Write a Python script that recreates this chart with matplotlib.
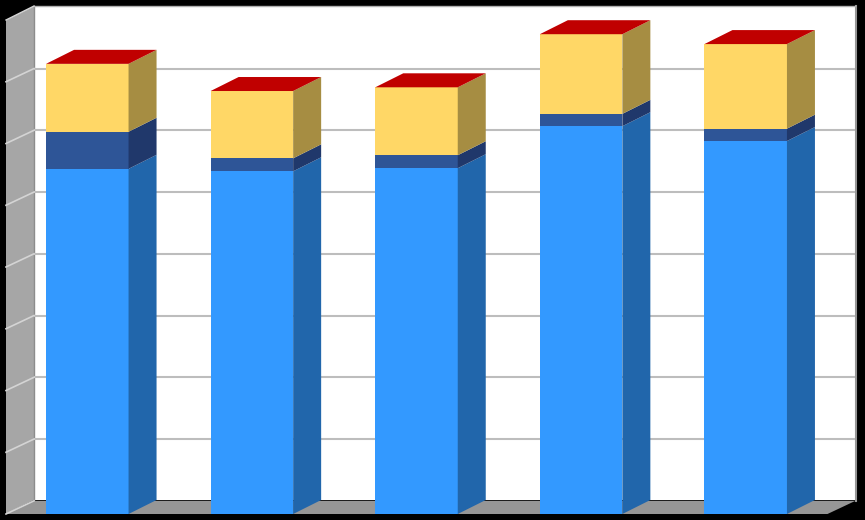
from matplotlib import pyplot as plt
from matplotlib.patches import Polygon

# values, one gridline = 1 unit
blue = [5.59, 5.55, 5.60, 6.28, 6.04]
navy = [0.60, 0.21, 0.21, 0.20, 0.20]
yellow = [1.10, 1.09, 1.10, 1.29, 1.37]
red = [0.0, 0.0, 0.0, 0.0, 0.0]
gridlines = [1, 2, 3, 4, 5, 6, 7, 8]

# front colour, side colour
colors = [('#3399ff', '#2166ab'), ('#2e5597', '#20386b'), ('#ffd766', '#a68d42'), ('#c00000', '#c00000')]

W, H = 865, 520
x_step = 164.6
y_step = 61.75
x0 = 87.3   # pixel centre of first bar
y0 = 514    # pixel of value 0, front of floor
dx = 28 / x_step
dy = 14 / y_step
grid_dy = 13.2 / y_step
bar_w = 82.5 / x_step

fig = plt.figure(figsize=(W / 100, H / 100), dpi=100, facecolor='black')
ax = fig.add_axes([0, 0, 1, 1])
ax.set_xlim(-x0 / x_step, (W - x0) / x_step)
ax.set_ylim(-(H - y0) / y_step, y0 / y_step)
ax.axis('off')

# wall and floor limits in data units
left = (6 - x0) / x_step
right = (827.5 - x0) / x_step
top = 8

def poly(pts, color, z, **kw):
    ax.add_patch(Polygon(pts, closed=True, facecolor=color, edgecolor='none', zorder=z, **kw))

# back wall
poly([(left + dx, dy), (right + dx, dy), (right + dx, top + dy), (left + dx, top + dy)], 'white', 1)
# left wall
poly([(left, 0), (left + dx, dy), (left + dx, top + dy), (left, top)], '#a6a6a6', 1)
# floor
poly([(left, 0), (right, 0), (right + dx, grid_dy), (left + dx, grid_dy)], '#969696', 1)
# thin grey edges
ax.plot([left + dx, left + dx], [dy, top + dy], color='#8c8c8c', lw=1, zorder=2)
ax.plot([right + dx + 0.004] * 2, [grid_dy, top + dy], color='#969696', lw=1.5, zorder=2)
ax.plot([left + dx, right + dx], [top + dy, top + dy], color='#b0b0b0', lw=1, zorder=2)

for g in gridlines[:-1]:
    ax.plot([left + dx, right + dx], [g + grid_dy, g + grid_dy], color='#bdbdbd', lw=1.5, zorder=2, solid_capstyle='butt')
    ax.plot([left, left + dx], [g, g + grid_dy], color='#d4d4d4', lw=1.2, zorder=2)
ax.plot([left, left + dx], [0, grid_dy], color='#d4d4d4', lw=1.2, zorder=2)
ax.plot([left, left + dx], [top, top + dy], color='#d4d4d4', lw=1, zorder=2)

series = [blue, navy, yellow, red]
for i in range(len(blue)):
    base = 0
    l = i - bar_w / 2
    r = i + bar_w / 2
    for vals, (front, side) in zip(series, colors):
        v = vals[i]
        if v > 0:
            ax.bar(i, v, bar_w, bottom=base, color=front, zorder=3)
            poly([(r, base), (r + dx, base + dy), (r + dx, base + v + dy), (r, base + v)], side, 3)
        base += v
    # lid takes the colour of the last series
    poly([(l, base), (r, base), (r + dx, base + dy), (l + dx, base + dy)], colors[-1][0], 3)

ax.set_xlim(-x0 / x_step, (W - x0) / x_step)
ax.set_ylim(-(H - y0) / y_step, y0 / y_step)
fig.savefig('out.png', dpi=100, facecolor='black')
